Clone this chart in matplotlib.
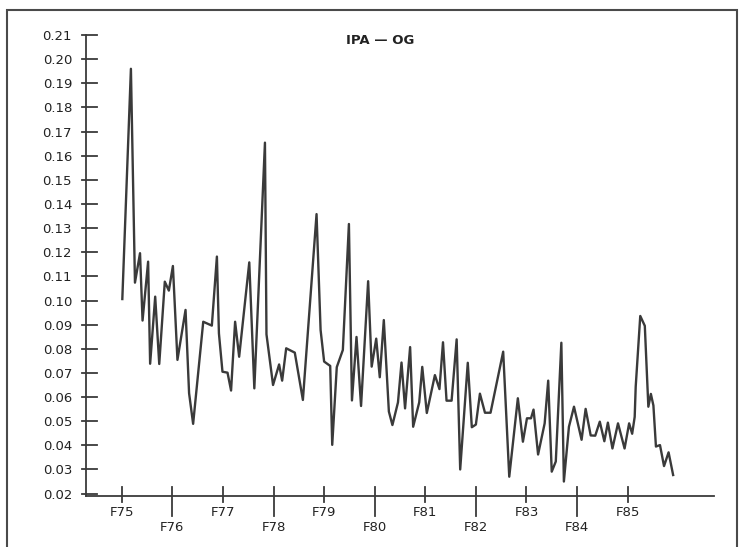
import matplotlib
matplotlib.use("Agg")
import matplotlib.pyplot as plt
from matplotlib.patches import Rectangle

# fiscal year position (F75 = 75.0) and IPA-OG value
years = [75.01, 75.18, 75.26, 75.36, 75.41, 75.52, 75.56, 75.66, 75.74, 75.85,
         75.93, 76.01, 76.10, 76.26, 76.33, 76.41, 76.61, 76.78, 76.88, 76.92,
         76.99, 77.09, 77.16, 77.24, 77.32, 77.52, 77.62, 77.83, 77.86, 77.99,
         78.11, 78.17, 78.25, 78.42, 78.58, 78.85, 78.93, 79.00, 79.12, 79.16,
         79.25, 79.37, 79.49, 79.55, 79.64, 79.73, 79.87, 79.94, 80.03, 80.10,
         80.18, 80.28, 80.35, 80.46, 80.53, 80.60, 80.70, 80.76, 80.88, 80.94,
         81.03, 81.19, 81.28, 81.35, 81.42, 81.52, 81.62, 81.69, 81.84, 81.92,
         82.00, 82.08, 82.18, 82.29, 82.54, 82.66, 82.83, 82.93, 83.01, 83.09,
         83.14, 83.23, 83.36, 83.43, 83.50, 83.58, 83.69, 83.74, 83.84, 83.94,
         84.09, 84.17, 84.27, 84.36, 84.45, 84.54, 84.61, 84.70, 84.81, 84.94,
         85.03, 85.09, 85.14, 85.16, 85.25, 85.34, 85.41, 85.46, 85.51, 85.56,
         85.64, 85.72, 85.81, 85.90]
values = [0.1006, 0.1960, 0.1074, 0.1196, 0.0917, 0.1161, 0.0738, 0.1016, 0.0737, 0.1078,
          0.1041, 0.1143, 0.0754, 0.0961, 0.0616, 0.0489, 0.0912, 0.0896, 0.1182, 0.0864,
          0.0705, 0.0701, 0.0627, 0.0912, 0.0767, 0.1158, 0.0636, 0.1654, 0.0860, 0.0650,
          0.0735, 0.0668, 0.0802, 0.0784, 0.0588, 0.1358, 0.0878, 0.0747, 0.0729, 0.0402,
          0.0724, 0.0795, 0.1317, 0.0586, 0.0849, 0.0563, 0.1080, 0.0726, 0.0842, 0.0682,
          0.0919, 0.0540, 0.0484, 0.0578, 0.0743, 0.0553, 0.0807, 0.0477, 0.0578, 0.0725,
          0.0534, 0.0691, 0.0633, 0.0827, 0.0585, 0.0585, 0.0839, 0.0300, 0.0742, 0.0475,
          0.0486, 0.0614, 0.0535, 0.0535, 0.0788, 0.0270, 0.0595, 0.0415, 0.0512, 0.0512,
          0.0548, 0.0362, 0.0491, 0.0668, 0.0291, 0.0333, 0.0825, 0.0250, 0.0477, 0.0560,
          0.0423, 0.0551, 0.0441, 0.0440, 0.0498, 0.0417, 0.0494, 0.0387, 0.0491, 0.0387,
          0.0491, 0.0448, 0.0518, 0.0643, 0.0936, 0.0895, 0.0560, 0.0613, 0.0565, 0.0395,
          0.0401, 0.0314, 0.0371, 0.0277]

y_ticks = [round(0.02 + 0.01 * i, 2) for i in range(20)]
x_ticks = list(range(75, 86))
x_labels = ["F%d" % y for y in x_ticks]
title = "IPA \u2014 OG"

ink = "#3a3a3a"
W, H = 746, 547
fig = plt.figure(figsize=(W / 100, H / 100), dpi=100)
fig.patch.set_facecolor("white")

# axes box in pixels: left 86, right 714, top (0.21) 35, x axis line 495.7
left, right, top, base = 86, 714, 35, 495.7
ax = fig.add_axes([left / W, (H - base) / H, (right - left) / W, (base - top) / H])
ax.set_xlim(74.292, 86.708)
ax.set_ylim(0.01913, 0.21)
ax_w, ax_h = right - left, base - top

ax.plot(years, values, color=ink, lw=1.7, solid_joinstyle="round")

for side in ["top", "right"]:
    ax.spines[side].set_visible(False)
for side in ["left", "bottom"]:
    ax.spines[side].set_color(ink)
    ax.spines[side].set_linewidth(1.3)

# y ticks: labels via matplotlib, marks crossing the spine
ax.set_yticks(y_ticks)
ax.set_yticklabels(["%.2f" % v for v in y_ticks])
ax.tick_params(axis="y", length=0, pad=10, labelsize=9.5, labelcolor="#222222")
ytr = ax.get_yaxis_transform()
for v in y_ticks:
    ax.plot([-4 / ax_w, 10.5 / ax_w], [v, v], color=ink, lw=1.3,
            transform=ytr, clip_on=False)

# x ticks: alternate short / long marks, labels staggered
ax.set_xticks([])
xtr = ax.get_xaxis_transform()
for i, (yr, lab) in enumerate(zip(x_ticks, x_labels)):
    low = 20 if i % 2 else 6
    ax.plot([yr, yr], [9 / ax_h, -low / ax_h], color=ink, lw=1.3,
            transform=xtr, clip_on=False)
    ly = -(527.5 - base) / ax_h if i % 2 else -(512.8 - base) / ax_h
    ax.text(yr, ly, lab, transform=xtr, ha="center", va="center",
            fontsize=9.5, color="#222222")

fig.text(380 / W, 1 - 41 / H, title, ha="center", va="center",
         fontsize=9.5, fontweight="bold", color="#222222")

# frame around the whole picture (bottom edge runs off the page)
fig.patches.append(Rectangle((7 / W, -0.02), 730 / W, 0.02 + (H - 10) / H,
                             transform=fig.transFigure, fill=False,
                             edgecolor="#4a4a4a", lw=1.5))

fig.savefig("out.png", dpi=100, facecolor="white")
